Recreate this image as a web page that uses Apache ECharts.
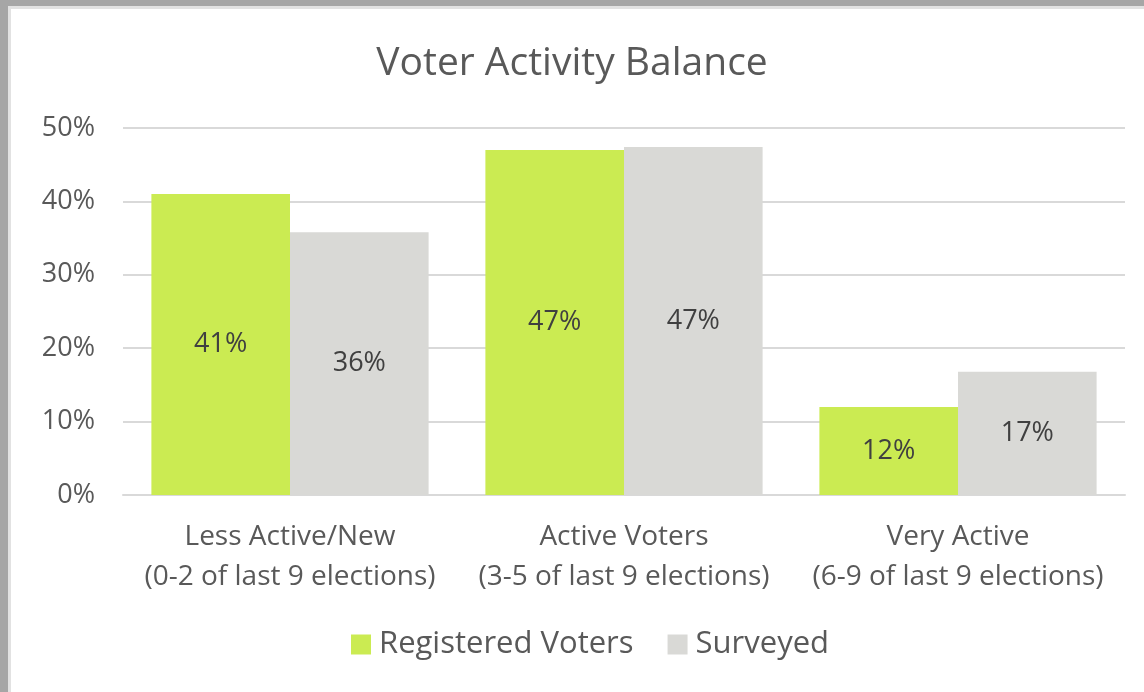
<!DOCTYPE html>
<html>
<head>
<meta charset="utf-8">
<script src="https://cdn.jsdelivr.net/npm/echarts@6/dist/echarts.min.js"></script>
<style>
  html, body { margin: 0; padding: 0; width: 1144px; height: 692px; overflow: hidden; background: #fff; }
  #frame { position: absolute; left: 0; top: 0; width: 1144px; height: 692px; background: #a6a6a6; }
  #paper { position: absolute; left: 8px; top: 6px; right: 0; bottom: 0; background: #fff;
           border-top: 3px solid #e2e2e2; border-left: 3px solid #e2e2e2; }
  #chart { position: absolute; left: 0; top: 0; width: 1144px; height: 692px; }
</style>
</head>
<body>
<div id="frame"><div id="paper"></div></div>
<div id="chart"></div>
<script>
// Chart data
const categories = ['Less Active/New\n(0-2 of last 9 elections)', 'Active Voters\n(3-5 of last 9 elections)', 'Very Active\n(6-9 of last 9 elections)'];
const registeredVoters = [41, 47, 12];
const surveyed = [35.8, 47.4, 16.8];
const seriesNames = ['Registered Voters', 'Surveyed'];

document.addEventListener('DOMContentLoaded', function() {
    const chart = echarts.init(document.getElementById('chart'));
    const font = '"Open Sans", Lato, sans-serif';

    const barLabel = {
        show: true,
        position: 'inside',
        color: '#404040',
        fontSize: 27,
        fontFamily: font,
        formatter: function(p) { return Math.round(p.value) + '%'; }
    };

    const options = {
        animation: false,
        title: {
            text: 'Voter Activity Balance',
            left: 'center',
            top: 39,
            textStyle: { color: '#595959', fontSize: 39, fontWeight: 'normal', fontFamily: font }
        },
        legend: {
            data: seriesNames,
            bottom: 27,
            left: 346,
            itemWidth: 20,
            itemHeight: 20,
            itemGap: 34,
            icon: 'rect',
            textStyle: { color: '#595959', fontSize: 31, fontFamily: font, padding: [0, 0, 0, 3] }
        },
        grid: {
            left: 123,
            right: 19,
            top: 128,
            bottom: 197
        },
        xAxis: {
            type: 'category',
            data: categories,
            axisTick: { show: false },
            axisLine: { lineStyle: { color: '#d9d9d9', width: 2 } },
            axisLabel: { interval: 0, color: '#595959', fontSize: 28, fontFamily: font, lineHeight: 40, margin: 22 }
        },
        yAxis: {
            type: 'value',
            min: 0,
            max: 50,
            interval: 10,
            axisLabel: { color: '#595959', fontSize: 27, fontFamily: font, margin: 28, formatter: '{value}%' },
            splitLine: { lineStyle: { color: '#d9d9d9', width: 2 } }
        },
        series: [
            {
                name: seriesNames[0],
                type: 'bar',
                data: registeredVoters,
                barGap: '0%',
                barCategoryGap: '17%',
                itemStyle: { color: '#cbeb52' },
                label: barLabel
            },
            {
                name: seriesNames[1],
                type: 'bar',
                data: surveyed,
                itemStyle: { color: '#d9d9d6' },
                label: barLabel
            }
        ]
    };

    chart.setOption(options);
});
</script>
</body>
</html>
